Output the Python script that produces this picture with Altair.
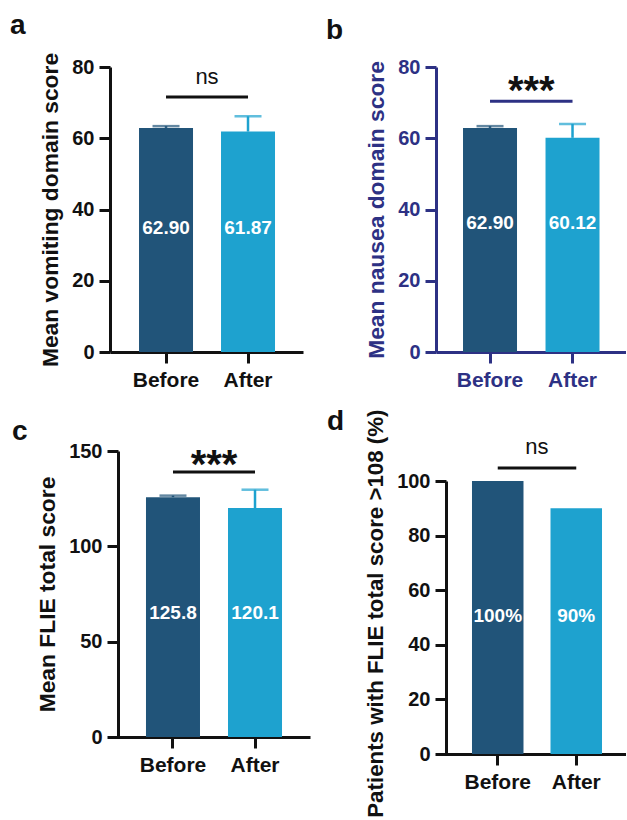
import altair as alt
import pandas as pd

# ---------------- data ----------------
groups = ["Before", "After"]

vomit_mean = [62.90, 61.87]
vomit_err = [0.5, 4.3]
vomit_label = ["62.90", "61.87"]

nausea_mean = [62.90, 60.12]
nausea_err = [0.5, 3.9]
nausea_label = ["62.90", "60.12"]

flie_mean = [125.8, 120.1]
flie_err = [0.8, 9.6]
flie_label = ["125.8", "120.1"]

pct_mean = [100, 90]
pct_label = ["100%", "90%"]

sig_marks = ["ns", "***", "***", "ns"]
y_titles = [
    "Mean vomiting domain score",
    "Mean nausea domain score",
    "Mean FLIE total score",
    "Patients with FLIE total score >108 (%)",
]
panel_letters = ["a", "b", "c", "d"]

# ---------------- style ----------------
FONT = "Liberation Sans"
DARK = "#215479"
LIGHT = "#1EA2CF"
BLACK = "#111111"
NAVY = "#2D3184"


def panel(i, means, errs, labels, ymax, ystep, w, h, band, ink, shift,
          label_at, bracket_at, sig_at, sig_size, sig_weight, step,
          letter_dx, letter_dy, bracket_ink, title_top=None, title_size=22.8):
    df = pd.DataFrame({"group": groups, "mean": means, "label": labels})
    xs = alt.Scale(domain=groups, paddingInner=band[0], paddingOuter=band[1], align=band[2])
    xa = alt.Axis(title=None, labelAngle=0, labelFont=FONT, labelFontSize=21,
                  labelFontWeight="bold", labelColor=ink, domainColor=ink, domainWidth=3,
                  tickColor=ink, tickWidth=3, tickSize=11, labelPadding=6, grid=False)
    ys = alt.Scale(domain=[0, ymax], nice=False)
    axis_kw = dict(title=y_titles[i], values=list(range(0, ymax + 1, ystep)), offset=shift,
                   labelFont=FONT, labelFontSize=20, labelFontWeight="bold", labelColor=ink,
                   labelPadding=5, domainColor=ink, domainWidth=3, tickColor=ink, tickWidth=3,
                   tickSize=11, titleFont=FONT, titleFontSize=title_size, titleFontWeight="bold",
                   titleColor=ink, titlePadding=9, grid=False)
    if title_top is not None:
        axis_kw.update(titleAnchor="end", titleY=title_top)
    ya = alt.Axis(**axis_kw)
    X = alt.X("group:N", scale=xs, axis=xa, sort=groups)
    C = alt.Color("group:N", scale=alt.Scale(domain=groups, range=[DARK, LIGHT]), legend=None)
    base = alt.Chart(df)
    layers = [base.mark_bar().encode(x=X, y=alt.Y("mean:Q", scale=ys, axis=ya), color=C)]
    if errs:
        df["top"] = [m + e for m, e in zip(means, errs)]
        base = alt.Chart(df)
        layers.append(base.mark_rule(strokeWidth=2.5).encode(
            x=X, y=alt.Y("mean:Q", scale=ys, axis=ya), y2="top:Q", color=C))
        layers.append(base.mark_tick(size=27, thickness=2.5).encode(
            x=X, y=alt.Y("top:Q", scale=ys, axis=ya), color=C))
    layers.append(base.mark_text(font=FONT, fontSize=19, fontWeight="bold", color="white",
                                 baseline="alphabetic").encode(
        x=X, y=alt.datum(label_at), text="label:N"))
    one = alt.Chart(pd.DataFrame({"sig": [sig_marks[i]]}))
    layers.append(one.mark_rule(strokeWidth=3, color=bracket_ink).encode(
        x=alt.datum("Before"), x2=alt.datum("After"), y=alt.datum(bracket_at)))
    layers.append(one.mark_text(font=FONT, fontSize=sig_size, fontWeight=sig_weight,
                                color=BLACK, baseline="alphabetic", dx=step / 2).encode(
        x=alt.datum("Before"), y=alt.datum(sig_at), text="sig:N"))
    return alt.layer(*layers).properties(
        width=w, height=h,
        title=alt.TitleParams(text=panel_letters[i], anchor="start", frame="group",
                              dx=letter_dx, dy=letter_dy, offset=0,
                              baseline="alphabetic", font=FONT, fontSize=28,
                              fontWeight="bold", color=BLACK),
    )


pa = panel(0, vomit_mean, vomit_err, vomit_label, 80, 20, 193, 285,
           (0.3415, 0.3476, 0.509), BLACK, 0, 33, 71.6, 75.2, 22, "normal", 82,
           -100, 10, BLACK)
pb = panel(1, nausea_mean, nausea_err, nausea_label, 80, 20, 190, 285,
           (0.3455, 0.3242, 0.505), NAVY, 0, 34.5, 70.4, 69.5, 40, "bold", 82.5,
           -110, 10, NAVY)
pc = panel(2, flie_mean, flie_err, flie_label, 150, 50, 200, 286,
           (0.3415, 0.390, 0.5625), BLACK, -8, 62, 139, 135.8, 40, "bold", 82,
           -98, 27, BLACK)
pd_ = panel(3, pct_mean, None, pct_label, 100, 20, 190, 273,
            (0.344, 0.382, 0.6), BLACK, -10, 48.4, 104.8, 109.9, 22, "normal", 78.5,
            -109, 49, BLACK, title_top=-72, title_size=22.3)

col1 = alt.vconcat(pa, pc, spacing=99, bounds="flush")
col2 = alt.vconcat(pb, pd_, spacing=129, bounds="flush")

chart = alt.hconcat(col1, col2, spacing=16).properties(
    padding={"left": 10, "top": 12, "right": 0, "bottom": 0},
    background="white",
).configure_view(stroke=None)

chart.save("out.html", embed_options={"renderer": "svg", "actions": False})
